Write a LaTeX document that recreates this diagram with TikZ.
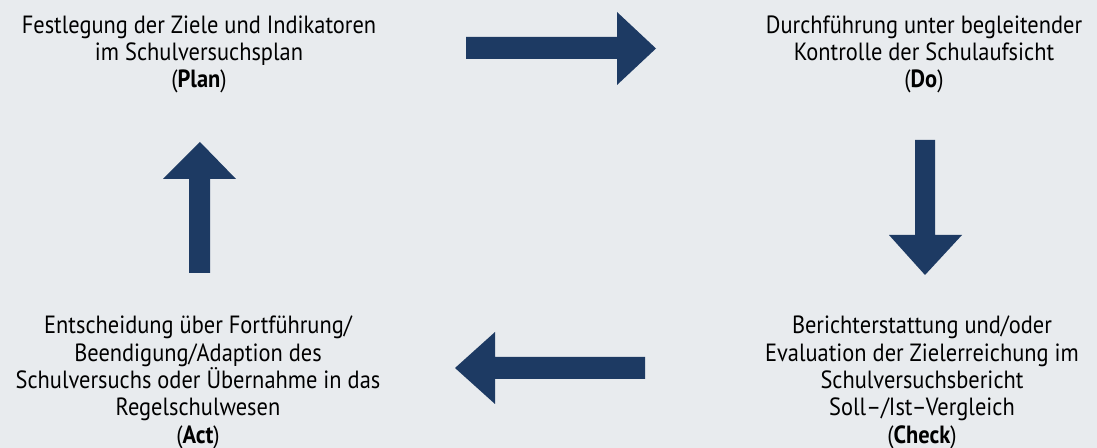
\documentclass[tikz,border=0pt]{standalone}
\usepackage{fontspec}
\setmainfont{PT Sans}[FakeStretch=0.9]
\definecolor{bgcol}{HTML}{E8EBEE}
\definecolor{navy}{HTML}{1D3A63}
\begin{document}
\begin{tikzpicture}[x=1bp,y=-1bp,
  label/.style={align=center,inner sep=0pt,anchor=base,font=\fontsize{25}{27.4}\selectfont,text=black},
  blockarrow/.style={fill=navy,draw=none}]
\fill[bgcol] (0,0) rectangle (1097,448);
\useasboundingbox (0,0) rectangle (1097,448);
% texts (anchor = baseline of last line)
\node[label] (plan) at (199,88) {Festlegung der Ziele und Indikatoren\\im Schulversuchsplan\\(\textbf{Plan})};
\node[label] (do) at (924,88) {Durchführung unter begleitender\\Kontrolle der Schulaufsicht\\(\textbf{Do})};
\node[label] (check) at (922,443) {Berichterstattung und/oder\\Evaluation der Zielerreichung im\\Schulversuchsbericht\\Soll–/Ist–Vergleich\\(\textbf{Check})};
\node[label] (act) at (198,443) {Entscheidung über Fortführung/\\Beendigung/Adaption des\\Schulversuchs oder Übernahme in das\\Regelschulwesen\\(\textbf{Act})};
% arrows
\fill[blockarrow] (466,37) -- (617,37) -- (617,12) -- (656,48.5) -- (617,85) -- (617,59) -- (466,59) -- cycle;
\fill[blockarrow] (915,140) -- (935,140) -- (935,235) -- (962,235) -- (925,275) -- (889,235) -- (915,235) -- cycle;
\fill[blockarrow] (645,357) -- (495,357) -- (495,332) -- (455,368) -- (495,404) -- (495,379) -- (645,379) -- cycle;
\fill[blockarrow] (189,273) -- (189,179) -- (163,179) -- (200,142) -- (236,179) -- (210,179) -- (210,273) -- cycle;
\end{tikzpicture}
\end{document}
